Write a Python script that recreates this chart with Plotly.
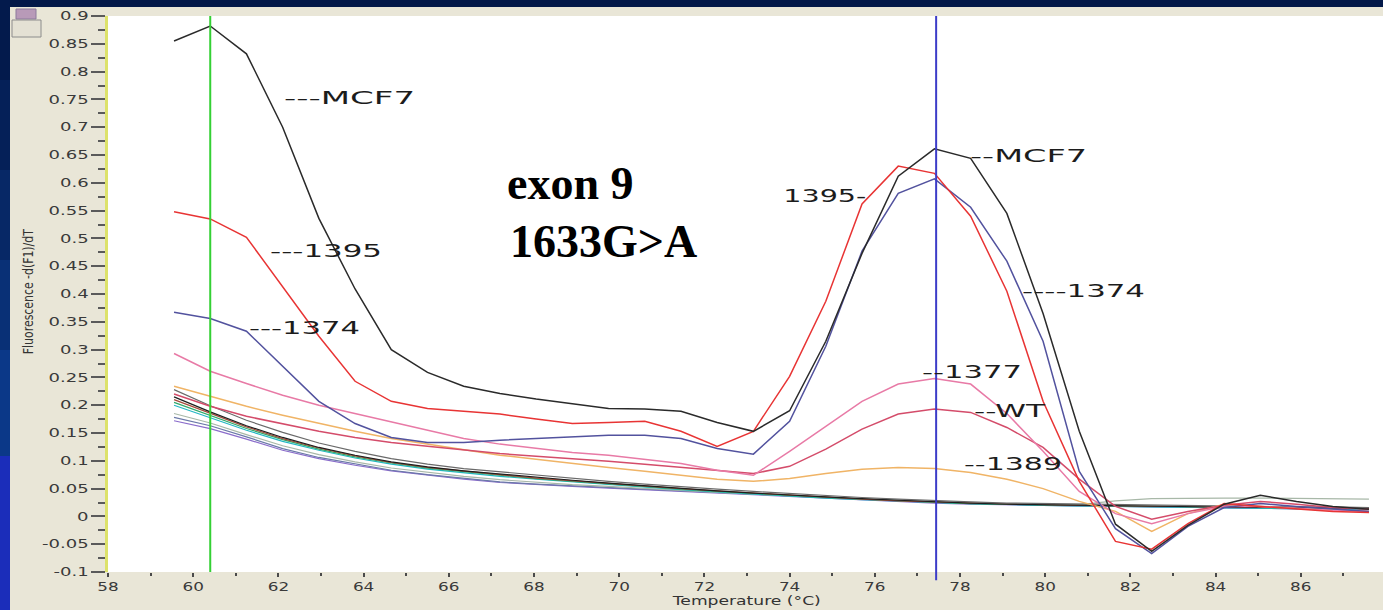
import json
import plotly.graph_objects as go

# ---------------- data ----------------
temps = [59.55, 60.40, 61.25, 62.10, 62.95, 63.80, 64.65, 65.50, 66.35, 67.20,
         68.05, 68.90, 69.75, 70.60, 71.45, 72.30, 73.15, 74.00, 74.85, 75.70,
         76.55, 77.40, 78.25, 79.10, 79.95, 80.80, 81.65, 82.50, 83.35, 84.20,
         85.05, 85.90, 86.75, 87.60]

mcf7 = [0.855, 0.882, 0.832, 0.700, 0.536, 0.409, 0.300, 0.259, 0.234, 0.221,
        0.211, 0.202, 0.194, 0.193, 0.189, 0.169, 0.153, 0.190, 0.315, 0.473,
        0.612, 0.661, 0.644, 0.545, 0.365, 0.153, -0.014, -0.063, -0.016, 0.022,
        0.038, 0.027, 0.018, 0.013]

s1395 = [0.548, 0.535, 0.502, 0.414, 0.324, 0.243, 0.207, 0.194, 0.189, 0.184,
         0.175, 0.167, 0.169, 0.171, 0.153, 0.126, 0.153, 0.252, 0.387, 0.562,
         0.630, 0.617, 0.540, 0.405, 0.207, 0.063, -0.045, -0.059, -0.013, 0.023,
         0.018, 0.013, 0.009, 0.007]

s1374 = [0.367, 0.356, 0.333, 0.270, 0.207, 0.167, 0.142, 0.133, 0.133, 0.137,
         0.140, 0.142, 0.146, 0.146, 0.140, 0.122, 0.112, 0.171, 0.306, 0.477,
         0.581, 0.607, 0.556, 0.459, 0.315, 0.081, -0.022, -0.067, -0.018, 0.016,
         0.023, 0.018, 0.013, 0.009]

s1377 = [0.293, 0.261, 0.239, 0.218, 0.200, 0.185, 0.171, 0.155, 0.140, 0.130,
         0.122, 0.115, 0.110, 0.103, 0.095, 0.083, 0.074, 0.117, 0.162, 0.207,
         0.238, 0.248, 0.238, 0.185, 0.117, 0.045, 0.005, -0.013, 0.005, 0.018,
         0.018, 0.014, 0.011, 0.009]

wt = [0.220, 0.198, 0.180, 0.166, 0.153, 0.142, 0.133, 0.126, 0.119, 0.113,
      0.108, 0.104, 0.099, 0.094, 0.088, 0.083, 0.077, 0.090, 0.121, 0.157,
      0.184, 0.193, 0.187, 0.160, 0.124, 0.067, 0.018, -0.005, 0.009, 0.020,
      0.027, 0.022, 0.016, 0.013]

s1389 = [0.234, 0.216, 0.198, 0.182, 0.167, 0.153, 0.140, 0.130, 0.119, 0.110,
         0.103, 0.095, 0.088, 0.081, 0.074, 0.067, 0.063, 0.068, 0.077, 0.085,
         0.088, 0.086, 0.079, 0.067, 0.050, 0.027, 0.009, -0.027, 0.005, 0.022,
         0.018, 0.014, 0.011, 0.009]

# negative / no-template samples (the bundle of decaying curves)
neg_gray = [0.228, 0.199, 0.173, 0.151, 0.132, 0.117, 0.104, 0.094, 0.086, 0.080,
            0.074, 0.068, 0.063, 0.058, 0.053, 0.049, 0.045, 0.041, 0.037, 0.034,
            0.031, 0.028, 0.026, 0.024, 0.023, 0.022, 0.021, 0.020, 0.019, 0.018,
            0.018, 0.017, 0.017, 0.016]
neg_black = [0.215, 0.188, 0.163, 0.142, 0.124, 0.110, 0.098, 0.089, 0.082, 0.076,
             0.070, 0.065, 0.060, 0.055, 0.050, 0.046, 0.042, 0.038, 0.035, 0.032,
             0.029, 0.026, 0.024, 0.022, 0.021, 0.020, 0.019, 0.018, 0.017, 0.017,
             0.016, 0.016, 0.015, 0.015]
neg_brown = [0.210, 0.185, 0.161, 0.140, 0.123, 0.109, 0.097, 0.088, 0.081, 0.075,
             0.069, 0.064, 0.059, 0.054, 0.050, 0.046, 0.042, 0.038, 0.034, 0.031,
             0.028, 0.026, 0.024, 0.022, 0.021, 0.020, 0.019, 0.018, 0.018, 0.017,
             0.016, 0.016, 0.015, 0.014]
neg_green = [0.205, 0.181, 0.158, 0.138, 0.121, 0.107, 0.096, 0.087, 0.080, 0.074,
             0.068, 0.063, 0.058, 0.053, 0.049, 0.045, 0.041, 0.037, 0.034, 0.031,
             0.028, 0.025, 0.023, 0.022, 0.021, 0.020, 0.019, 0.018, 0.017, 0.016,
             0.016, 0.015, 0.015, 0.014]
neg_teal = [0.200, 0.177, 0.155, 0.135, 0.119, 0.105, 0.094, 0.085, 0.078, 0.072,
            0.067, 0.062, 0.057, 0.052, 0.048, 0.044, 0.040, 0.036, 0.033, 0.030,
            0.027, 0.025, 0.023, 0.021, 0.020, 0.019, 0.018, 0.017, 0.016, 0.015,
            0.014, 0.013, 0.013, 0.012]
neg_lightgray = [0.185, 0.168, 0.147, 0.127, 0.111, 0.098, 0.087, 0.079, 0.072, 0.066,
                 0.061, 0.057, 0.054, 0.050, 0.046, 0.043, 0.040, 0.037, 0.034, 0.031,
                 0.028, 0.026, 0.024, 0.022, 0.021, 0.021, 0.028, 0.032, 0.033, 0.033,
                 0.033, 0.032, 0.032, 0.031]
neg_bluegray = [0.178, 0.163, 0.143, 0.122, 0.106, 0.094, 0.083, 0.075, 0.068, 0.062,
                0.058, 0.055, 0.052, 0.049, 0.045, 0.042, 0.039, 0.036, 0.033, 0.030,
                0.027, 0.025, 0.023, 0.021, 0.020, 0.019, 0.018, 0.017, 0.016, 0.016,
                0.015, 0.014, 0.014, 0.013]
neg_purple = [0.172, 0.158, 0.139, 0.119, 0.104, 0.092, 0.082, 0.074, 0.067, 0.061,
              0.057, 0.054, 0.051, 0.048, 0.044, 0.041, 0.038, 0.035, 0.032, 0.029,
              0.027, 0.024, 0.022, 0.021, 0.020, 0.019, 0.018, 0.017, 0.016, 0.015,
              0.015, 0.014, 0.013, 0.012]

y_tick_vals = [-0.1, -0.05, 0, 0.05, 0.1, 0.15, 0.2, 0.25, 0.3, 0.35, 0.4,
               0.45, 0.5, 0.55, 0.6, 0.65, 0.7, 0.75, 0.8, 0.85, 0.9]
y_tick_text = ["-0.1", "-0.05", "0", "0.05", "0.1", "0.15", "0.2", "0.25", "0.3",
               "0.35", "0.4", "0.45", "0.5", "0.55", "0.6", "0.65", "0.7", "0.75",
               "0.8", "0.85", "0.9"]

cursor_green_T = 60.4
cursor_blue_T = 77.44

# ---------------- figure ----------------
W, H = 1383, 610
ML, MR, MT, MB = 108, 0, 16, 38
PW, PH = W - ML - MR, H - MT - MB


def px(xp):
    return (xp - ML) / PW


def py(yp):
    return (H - MB - yp) / PH


fig = go.Figure()

neg_series = [
    (neg_purple, "#8A6CCB"), (neg_bluegray, "#6A78A8"), (neg_lightgray, "#A8B8A8"),
    (neg_teal, "#22B8C4"), (neg_green, "#2FA868"), (neg_brown, "#A44A3A"),
    (neg_black, "#1E1E1E"), (neg_gray, "#6A6A6A"),
]
for vals, col in neg_series:
    fig.add_trace(go.Scatter(x=temps, y=vals, mode="lines",
                             line=dict(color=col, width=1.2), showlegend=False,
                             hoverinfo="skip"))

main_series = [
    (s1389, "#F0B466"), (wt, "#D44C6A"), (s1377, "#E87AA6"),
    (s1374, "#52529E"), (s1395, "#E83434"), (mcf7, "#2A2A2A"),
]
for vals, col in main_series:
    fig.add_trace(go.Scatter(x=temps, y=vals, mode="lines",
                             line=dict(color=col, width=1.5), showlegend=False,
                             hoverinfo="skip"))

shapes = []
# dark blue slide border (top strip and left strip with gradient bands)
shapes.append(dict(type="rect", xref="paper", yref="paper", x0=px(0), x1=px(W),
                   y0=py(7), y1=py(0), fillcolor="#021848", line_width=0, layer="above"))
bands = [(0, 80, "#031A4C"), (80, 170, "#052058"), (170, 260, "#072866"),
         (260, 350, "#093076"), (350, 456, "#0B3888"), (456, 610, "#1B2DBA")]
for y0, y1, c in bands:
    shapes.append(dict(type="rect", xref="paper", yref="paper", x0=px(0), x1=px(10),
                       y0=py(y1), y1=py(y0), fillcolor=c, line_width=0, layer="above"))
# small toolbar icons at top-left
shapes.append(dict(type="rect", xref="paper", yref="paper", x0=px(16), x1=px(36),
                   y0=py(19), y1=py(9), fillcolor="#B89AB8",
                   line=dict(color="#8C7A9C", width=1), layer="above"))
shapes.append(dict(type="rect", xref="paper", yref="paper", x0=px(12), x1=px(41),
                   y0=py(37), y1=py(20), fillcolor="#E4E1D4",
                   line=dict(color="#8C8C8C", width=1), layer="above"))
# cursor lines
shapes.append(dict(type="line", xref="x", yref="paper", x0=cursor_green_T, x1=cursor_green_T,
                   y0=0, y1=1, line=dict(color="#34D034", width=2)))
shapes.append(dict(type="line", xref="x", yref="paper", x0=cursor_blue_T, x1=cursor_blue_T,
                   y0=-0.015, y1=1, line=dict(color="#3C3CC8", width=2)))

lab_font = dict(family="DejaVu Sans", size=18, color="#1C1C1C")
# text, x, y, anchor, stretched width in px (the source screenshot is horizontally stretched)
labels = [
    ("---MCF7", 62.08, 0.754, "left", 131),
    ("---1395", 61.76, 0.479, "left", 112),
    ("---1374", 61.26, 0.339, "left", 111),
    ("1395-", 75.84, 0.578, "right", 83),
    ("--MCF7", 78.19, 0.650, "left", 117),
    ("----1374", 79.41, 0.407, "left", 123),
    ("--1377", 77.06, 0.260, "left", 100),
    ("--WT", 78.28, 0.191, "left", 71),
    ("--1389", 78.05, 0.096, "left", 98),
]
text_widths = {}
annotations = []
for t, x, y, anc, w in labels:
    annotations.append(dict(text=t, x=x, y=y, xref="x", yref="y", xanchor=anc,
                            align=anc, yanchor="middle", showarrow=False, font=lab_font))
    text_widths[t] = w

serif = dict(family="Liberation Serif", size=46, color="#000000", weight="bold")
annotations.append(dict(text="exon 9", x=67.32, y=0.598, xref="x", yref="y",
                        xanchor="left", yanchor="middle", showarrow=False, font=serif))
annotations.append(dict(text="1633G>A", x=67.39, y=0.494, xref="x", yref="y",
                        xanchor="left", yanchor="middle", showarrow=False, font=serif))

annotations.append(dict(text="Fluorescence -d(F1)/dT", x=px(28), y=py(292),
                        xref="paper", yref="paper", textangle=-90, showarrow=False,
                        xanchor="center", yanchor="middle",
                        font=dict(family="DejaVu Sans", size=14, color="#333333")))
text_widths["Fluorescence -d(F1)/dT"] = 125
annotations.append(dict(text="Temperature (°C)", x=72.98, y=py(601), xref="x",
                        yref="paper", showarrow=False, xanchor="center", yanchor="middle",
                        font=dict(family="DejaVu Sans", size=12, color="#333333")))
text_widths["Temperature (°C)"] = 148

x_end = 58 + PW / 42.6

fig.update_layout(
    width=W, height=H,
    margin=dict(l=ML, r=MR, t=MT, b=MB, pad=0),
    paper_bgcolor="#E9E6D7",
    plot_bgcolor="#FFFFFF",
    shapes=shapes,
    annotations=annotations,
    showlegend=False,
    xaxis=dict(range=[58, x_end], tick0=58, dtick=2, ticks="outside", ticklen=4,
               tickwidth=2, tickcolor="#4A4A4A", showgrid=False, zeroline=False,
               showline=False, tickfont=dict(family="DejaVu Sans", size=12, color="#3A3A3A"),
               minor=dict(dtick=1, tick0=58, ticks="outside", ticklen=3, tickwidth=2,
                          tickcolor="#4A4A4A", showgrid=False)),
    yaxis=dict(range=[-0.1, 0.9], tickmode="array", tickvals=y_tick_vals,
               ticktext=y_tick_text, ticks="outside", ticklen=14, tickwidth=1.5,
               tickcolor="#5A5A5A", showgrid=False, zeroline=False,
               showline=True, linecolor="#DDE26A", linewidth=3,
               tickfont=dict(family="DejaVu Sans", size=12, color="#3A3A3A"),
               minor=dict(tickmode="linear", dtick=0.025, tick0=0, ticks="outside",
                          ticklen=7, tickwidth=1.5, tickcolor="#5A5A5A", showgrid=False)),
)

# The source chart is a horizontally stretched screenshot: widen the label glyphs.
post_js = """
(function(){
  var gd = document.getElementById('{plot_id}');
  var widths = WIDTHS;
  function stretch(t, len){
    t.setAttribute('textLength', len.toFixed(1));
    t.setAttribute('lengthAdjust', 'spacingAndGlyphs');
  }
  gd.querySelectorAll('text.annotation-text').forEach(function(t){
    var k = t.textContent;
    if (Object.prototype.hasOwnProperty.call(widths, k)) { stretch(t, widths[k]); }
  });
  gd.querySelectorAll('.xtick text').forEach(function(t){ stretch(t, t.getComputedTextLength()*1.4); });
  gd.querySelectorAll('.ytick text').forEach(function(t){ stretch(t, t.getComputedTextLength()*1.5); });
})();
""".replace("WIDTHS", json.dumps(text_widths))

fig.write_html("out.html", post_script=post_js)
